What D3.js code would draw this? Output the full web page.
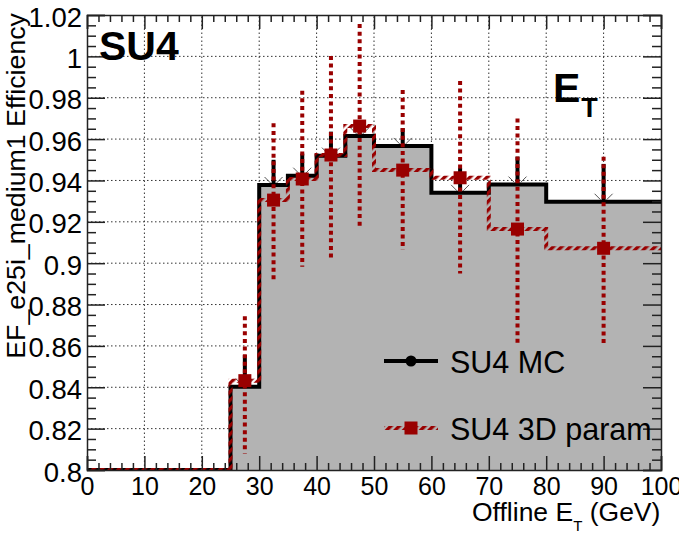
<!DOCTYPE html>
<html><head><meta charset="utf-8">
<script src="https://cdn.jsdelivr.net/npm/d3@7"></script>
<style>
html,body{margin:0;padding:0;background:#fff;}
svg{display:block;font-family:"Liberation Sans",Arial,sans-serif;}
</style></head>
<body><svg id="c" width="679" height="533"></svg>
<script>
// ---- data ----
const binEdges   = [0, 25, 30, 35, 40, 45, 50, 60, 70, 80, 100];
const mcEff      = [0.8, 0.8403, 0.9378, 0.9423, 0.9520, 0.9615, 0.9567, 0.9340, 0.9380, 0.9297];
const mcErrHi    = [null, 0.8556, 0.9500, 0.9530, 0.9636, 0.9690, 0.9653, 0.9460, 0.9515, 0.9480];
const paramEff   = [0.8, 0.8432, 0.9305, 0.9407, 0.9523, 0.9663, 0.9450, 0.9413, 0.9165, 0.9072];
const paramErrHi = [null, 0.8744, 0.9676, 0.9834, 1.0002, 1.0156, 0.9837, 0.9881, 0.9700, 0.9515];
const paramErrLo = [null, 0.8080, 0.8920, 0.8983, 0.9024, 0.9164, 0.9064, 0.8950, 0.8604, 0.8612];
const xTicks = [0, 10, 20, 30, 40, 50, 60, 70, 80, 90, 100];
const yTicks = [0.8, 0.82, 0.84, 0.86, 0.88, 0.9, 0.92, 0.94, 0.96, 0.98, 1, 1.02];
const yTickLabels = ["0.8","0.82","0.84","0.86","0.88","0.9","0.92","0.94","0.96","0.98","1","1.02"];
const legendLabels = ["SU4 MC", "SU4 3D param"];

const RED = "#990000", FILL = "#b3b3b3";
const svg = d3.select("#c");
const x = d3.scaleLinear().domain([0, 100]).range([87, 661]);
const y = d3.scaleLinear().domain([0.8, 1.02]).range([470, 15]);
const X0 = x(0), X1 = x(100), Y0 = y(0.8), Y1 = y(1.02);

const bins = mcEff.map((v, i) => ({
  lo: binEdges[i], hi: binEdges[i + 1], c: (binEdges[i] + binEdges[i + 1]) / 2,
  mc: v, mcHi: mcErrHi[i], p: paramEff[i], pHi: paramErrHi[i], pLo: paramErrLo[i]
}));

const defs = svg.append("defs");
defs.append("clipPath").attr("id", "clip").append("rect")
  .attr("x", X0).attr("y", Y1).attr("width", X1 - X0).attr("height", Y0 - Y1);
const pat = defs.append("pattern").attr("id", "hatch").attr("patternUnits", "userSpaceOnUse")
  .attr("width", 6).attr("height", 6).attr("patternTransform", "rotate(45)");
pat.append("rect").attr("x", 0).attr("y", 0).attr("width", 3.4).attr("height", 6).attr("fill", RED);

// grid
const grid = svg.append("g").attr("stroke", "#333").attr("stroke-width", 1).attr("stroke-dasharray", "1.5,2.5");
grid.selectAll(".gx").data(xTicks.slice(1, -1)).join("line")
  .attr("x1", d => x(d)).attr("x2", d => x(d)).attr("y1", Y0).attr("y2", Y1);
grid.selectAll(".gy").data(yTicks.slice(1, -1)).join("line")
  .attr("y1", d => y(d)).attr("y2", d => y(d)).attr("x1", X0).attr("x2", X1);

const plot = svg.append("g").attr("clip-path", "url(#clip)");

function stepPts(key) {
  const pts = [];
  bins.forEach(b => { pts.push([b.lo, b[key]]); pts.push([b.hi, b[key]]); });
  return pts;
}
const line = d3.line().x(d => x(d[0])).y(d => y(d[1]));
const area = d3.area().x(d => x(d[0])).y0(Y0).y1(d => y(d[1]));

plot.append("path").datum(stepPts("mc")).attr("d", area).attr("fill", FILL);
plot.append("path").datum(stepPts("mc")).attr("d", line)
  .attr("fill", "none").attr("stroke", "#000").attr("stroke-width", 4).attr("stroke-linejoin", "miter");
plot.selectAll(".mce").data(bins.filter(b => b.mcHi != null)).join("line")
  .attr("x1", d => x(d.c)).attr("x2", d => x(d.c)).attr("y1", d => y(d.mc)).attr("y2", d => y(d.mcHi))
  .attr("stroke", "#000").attr("stroke-width", 4);
const arms = plot.append("g").attr("stroke", "#555").attr("stroke-width", 1);
bins.filter(b => b.mcHi != null).forEach(b => {
  const cx = x(b.c), cy = y(b.mc) - 2;
  arms.append("line").attr("x1", cx - 9).attr("y1", cy - 6).attr("x2", cx - 3).attr("y2", cy);
  arms.append("line").attr("x1", cx + 9).attr("y1", cy - 6).attr("x2", cx + 3).attr("y2", cy);
});
plot.selectAll(".pe").data(bins.filter(b => b.pHi != null)).join("line")
  .attr("x1", d => x(d.c)).attr("x2", d => x(d.c)).attr("y1", d => y(d.pHi)).attr("y2", d => y(d.pLo))
  .attr("stroke", RED).attr("stroke-width", 4).attr("stroke-dasharray", "4,3.6");
plot.append("path").datum(stepPts("p")).attr("d", line)
  .attr("fill", "none").attr("stroke", "url(#hatch)").attr("stroke-width", 4);
plot.selectAll(".pm").data(bins.filter(b => b.pHi != null)).join("rect")
  .attr("x", d => x(d.c) - 6.5).attr("y", d => y(d.p) - 6.5).attr("width", 13).attr("height", 13)
  .attr("fill", RED);

// axes
const fmt = d => yTickLabels[yTicks.findIndex(t => Math.abs(t - d) < 1e-9)];
const minorX = d3.range(0, 100.001, 2).filter(v => v % 10 !== 0);
const minorY = d3.range(0, 44).map(i => +(0.8 + i * 0.005).toFixed(4)).filter(v => !yTicks.some(t => Math.abs(t - v) < 1e-9));

function styleAxis(g) {
  g.select(".domain").attr("stroke", "#222").attr("stroke-width", 1.5);
  g.selectAll(".tick line").attr("stroke", "#222").attr("stroke-width", 1.5);
}
svg.append("g").attr("transform", `translate(0,${Y0})`)
  .call(d3.axisBottom(x).tickValues(xTicks).tickSize(-14).tickPadding(8).tickFormat(d3.format("d")))
  .call(styleAxis)
  .call(g => g.selectAll("text").attr("font-size", 25).attr("fill", "#000")
    .attr("font-family", "Liberation Sans, Arial, sans-serif").attr("dy", "0.66em"));
svg.append("g").attr("transform", `translate(0,${Y0})`)
  .call(d3.axisBottom(x).tickValues(minorX).tickSize(-7).tickFormat(""))
  .call(styleAxis).call(g => g.select(".domain").remove());
svg.append("g").attr("transform", `translate(0,${Y1})`)
  .call(d3.axisTop(x).tickValues(xTicks).tickSize(-14).tickFormat(""))
  .call(styleAxis);
svg.append("g").attr("transform", `translate(0,${Y1})`)
  .call(d3.axisTop(x).tickValues(minorX).tickSize(-7).tickFormat(""))
  .call(styleAxis).call(g => g.select(".domain").remove());
svg.append("g").attr("transform", `translate(${X0},0)`)
  .call(d3.axisLeft(y).tickValues(yTicks).tickSize(-18).tickPadding(5).tickFormat(fmt))
  .call(styleAxis)
  .call(g => g.selectAll("text").attr("font-size", 27.5).attr("fill", "#000")
    .attr("font-family", "Liberation Sans, Arial, sans-serif").attr("dy", "0.4em"));
svg.append("g").attr("transform", `translate(${X0},0)`)
  .call(d3.axisLeft(y).tickValues(minorY).tickSize(-9).tickFormat(""))
  .call(styleAxis).call(g => g.select(".domain").remove());
svg.append("g").attr("transform", `translate(${X1},0)`)
  .call(d3.axisRight(y).tickValues(yTicks).tickSize(-18).tickFormat(""))
  .call(styleAxis);
svg.append("g").attr("transform", `translate(${X1},0)`)
  .call(d3.axisRight(y).tickValues(minorY).tickSize(-9).tickFormat(""))
  .call(styleAxis).call(g => g.select(".domain").remove());

// axis titles
svg.append("text").attr("transform", "translate(25,13) rotate(-90) scale(1.07,1)")
  .attr("text-anchor", "end").attr("font-size", 25).text("EF_e25i_medium1 Efficiency");
const xt = svg.append("text").attr("x", 472).attr("y", 521).attr("font-size", 26.5);
xt.append("tspan").text("Offline E");
xt.append("tspan").attr("font-size", 15).attr("dy", 10).text("T");
xt.append("tspan").attr("dy", -10).text(" (GeV)");

svg.append("text").attr("x", 99).attr("y", 60).attr("font-size", 41).attr("font-weight", "bold").text("SU4");
const et = svg.append("text").attr("x", 553).attr("y", 102).attr("font-size", 41).attr("font-weight", "bold");
et.append("tspan").text("E");
et.append("tspan").attr("font-size", 27).attr("dy", 15).attr("dx", 1).text("T");

// legend
const lg = svg.append("g");
const ly = [361, 428];
lg.append("line").attr("x1", 384).attr("x2", 438).attr("y1", ly[0]).attr("y2", ly[0])
  .attr("stroke", "#000").attr("stroke-width", 4);
lg.append("circle").attr("cx", 411).attr("cy", ly[0]).attr("r", 5.5).attr("fill", "#000");
lg.append("line").attr("x1", 384).attr("x2", 438).attr("y1", ly[1]).attr("y2", ly[1])
  .attr("stroke", "url(#hatch)").attr("stroke-width", 4);
lg.append("rect").attr("x", 411 - 6.5).attr("y", ly[1] - 6.5).attr("width", 13).attr("height", 13).attr("fill", RED);
lg.selectAll(".lt").data(legendLabels).join("text")
  .attr("x", 450).attr("y", (d, i) => ly[i] + 12).attr("font-size", 30.5).text(d => d);
</script></body></html>
